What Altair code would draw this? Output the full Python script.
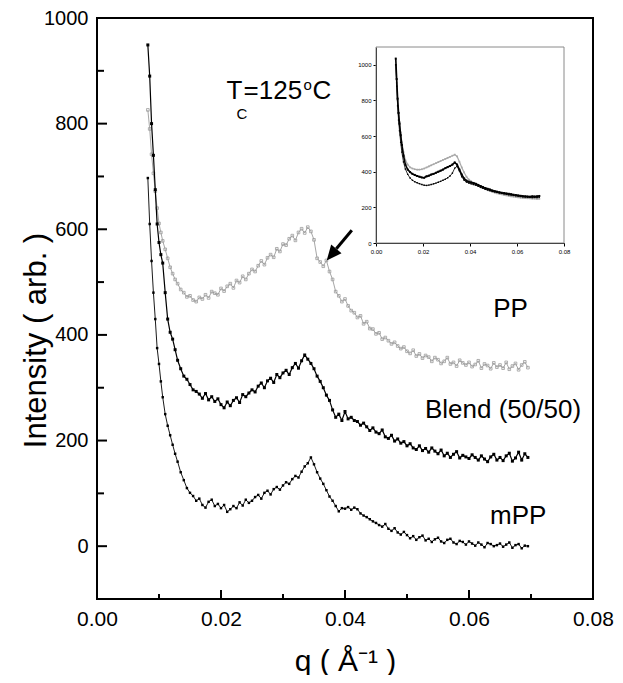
import altair as alt
import pandas as pd

FONT = "Liberation Sans"

# ---------------- main curves (q in 1/Angstrom, intensity arb.) ----------------
q_main = [
    0.0082, 0.0085, 0.0088, 0.0091, 0.0094, 0.0097, 0.0100, 0.0103, 0.0106,
    0.0110, 0.0114, 0.0118, 0.0122, 0.0126, 0.0130, 0.0135, 0.0140, 0.0145,
    0.0150, 0.0155, 0.0160, 0.0165, 0.0170, 0.0175, 0.0180, 0.0185, 0.0190, 0.0195,
    0.0200, 0.0205, 0.0210, 0.0215, 0.0220, 0.0225, 0.0230, 0.0235, 0.0240, 0.0245,
    0.0250, 0.0255, 0.0260, 0.0265, 0.0270, 0.0275, 0.0280, 0.0285, 0.0290, 0.0295,
    0.0300, 0.0305, 0.0310, 0.0315, 0.0320, 0.0325, 0.0330, 0.0335, 0.0340, 0.0345,
    0.0350, 0.0355, 0.0360, 0.0365, 0.0370, 0.0375, 0.0380, 0.0385, 0.0390, 0.0395,
    0.0400, 0.0405, 0.0410, 0.0415, 0.0420, 0.0425, 0.0430, 0.0435, 0.0440, 0.0445,
    0.0450, 0.0455, 0.0460, 0.0465, 0.0470, 0.0475, 0.0480, 0.0485, 0.0490, 0.0495,
    0.0500, 0.0505, 0.0510, 0.0515, 0.0520, 0.0525, 0.0530, 0.0535, 0.0540, 0.0545,
    0.0550, 0.0555, 0.0560, 0.0565, 0.0570, 0.0575, 0.0580, 0.0585, 0.0590, 0.0595,
    0.0600, 0.0605, 0.0610, 0.0615, 0.0620, 0.0625, 0.0630, 0.0635, 0.0640, 0.0645,
    0.0650, 0.0655, 0.0660, 0.0665, 0.0670, 0.0675, 0.0680, 0.0685, 0.0690, 0.0695,
]

pp_main = [
    826, 790, 742, 706, 672, 640, 611, 594, 578, 562, 545, 528, 516, 505, 497, 486, 480, 472,
    474, 466, 463, 471, 468, 476, 470, 482, 479, 476,
    488, 483, 492, 497, 489, 503, 499, 511, 505, 516,
    524, 520, 531, 540, 533, 546, 552, 547, 563, 558,
    572, 570, 582, 588, 579, 594, 601, 593, 604, 596,
    580, 545, 538, 530, 541, 520, 505, 482, 474, 463,
    468, 455, 446, 442, 433, 436, 421, 425, 412, 411,
    402, 404, 392, 395, 389, 383, 386, 379, 374, 377,
    369, 365, 371, 360, 364, 356, 361, 358, 350, 357,
    353, 346, 350, 357, 345, 348, 341, 352, 347, 343,
    348, 340, 344, 351, 337, 345, 342, 336, 347, 339,
    343, 337, 348, 335, 341, 346, 334, 343, 349, 338,
]

blend_main = [
    949, 890, 800, 740, 675, 610, 575, 552, 536, 480, 430, 405, 392, 372, 352, 336, 322, 316,
    306, 296, 293, 288, 280, 289, 277, 283, 274, 279,
    268, 262, 273, 266, 276, 281, 272, 287, 283, 290,
    296, 292, 303, 309, 300, 313, 318, 310, 325, 319,
    328, 333, 325, 338, 346, 337, 351, 362, 354, 346,
    336, 322, 312, 300, 286, 276, 258, 244, 250, 238,
    255, 241, 244, 238, 236, 229, 233, 226, 219, 224,
    216, 213, 220, 207, 204, 210, 199, 203, 195, 198,
    190, 194, 186, 183, 190, 181, 185, 178, 186, 180,
    175, 182, 171, 176, 168, 174, 179, 167, 172, 169,
    166, 173, 168, 163, 171, 165, 160, 169, 174, 163,
    168, 162, 171, 176, 161, 167, 178, 163, 175, 168,
]

mpp_main = [
    697, 610, 540, 480, 430, 375, 345, 312, 282, 250, 228, 210, 192, 175, 160, 140, 125, 110,
    101, 95, 86, 90, 78, 73, 84, 88, 76, 80,
    72, 78, 65, 70, 76, 72, 83, 77, 88, 82,
    86, 93, 97, 90, 101, 105, 98, 108, 112, 107,
    115, 121, 118, 127, 133, 130, 141, 151, 157, 168,
    155, 140, 128, 118, 106, 94, 86, 76, 66, 72,
    71, 74, 69, 73, 70, 62, 58, 55, 51, 47,
    44, 40, 37, 42, 33, 29, 34, 26, 22, 27,
    21, 15, 19, 12, 17, 20, 11, 14, 8, 13,
    16, 9, 6, 12, 14, 7, 4, 10, 8, 3,
    9, 5, 1, 7, 3, -2, 6, 4, 0, 2,
    5, -1, 3, 7, -3, 2, 4, -4, 1, 0,
]

# ---------------- inset curves (unshifted data) ----------------
q_inset = [
    0.0084, 0.0088, 0.0092, 0.0096, 0.0100, 0.0105, 0.0110, 0.0117, 0.0125, 0.0135, 0.0145,
    0.0155, 0.0165, 0.0175, 0.0185, 0.0195, 0.0205, 0.0215, 0.0225, 0.0235, 0.0245,
    0.0255, 0.0265, 0.0275, 0.0285, 0.0295, 0.0305, 0.0315, 0.0325, 0.0335, 0.0345,
    0.0355, 0.0365, 0.0375, 0.0385, 0.0395, 0.0405, 0.0415, 0.0425, 0.0435, 0.0445,
    0.0455, 0.0465, 0.0475, 0.0485, 0.0495, 0.0505, 0.0515, 0.0525, 0.0535, 0.0545,
    0.0555, 0.0565, 0.0575, 0.0585, 0.0595, 0.0605, 0.0615, 0.0625, 0.0635, 0.0645,
    0.0655, 0.0665, 0.0675, 0.0685, 0.0695,
]
blend_inset = [
    1035, 920, 810, 730, 670, 605, 550, 490, 440, 412, 398,
    388, 382, 376, 372, 368, 366, 374, 378, 384, 388,
    394, 400, 406, 412, 420, 426, 432, 440, 452, 440,
    412, 384, 362, 350, 344, 340, 336, 332, 326, 320,
    314, 308, 304, 300, 295, 291, 288, 285, 282, 280,
    278, 276, 274, 271, 269, 267, 265, 263, 262, 261,
    260, 262, 261, 262, 264,
]
pp_inset = [
    1000, 900, 800, 730, 680, 620, 565, 510, 465, 440, 425,
    418, 414, 412, 412, 414, 418, 424, 430, 436, 442,
    448, 454, 460, 466, 472, 478, 484, 490, 496, 486,
    456, 424, 396, 372, 356, 346, 338, 330, 322, 315,
    308, 302, 296, 291, 287, 283, 279, 276, 273, 270,
    267, 265, 262, 260, 258, 256, 254, 253, 252, 251,
    250, 249, 249, 248, 248,
]
mpp_inset = [
    1000, 880, 770, 690, 630, 565, 510, 455, 415, 385, 365,
    352, 344, 338, 333, 328, 324, 323, 325, 328, 332,
    336, 341, 346, 352, 358, 366, 376, 392, 420, 430,
    405, 372, 352, 342, 336, 332, 328, 324, 318, 312,
    307, 302, 298, 294, 290, 287, 284, 281, 279, 276,
    274, 271, 269, 267, 265, 263, 261, 259, 258, 257,
    256, 255, 256, 255, 257,
]

# ---------------- ticks / labels ----------------
x_tick_labels = [0.0, 0.02, 0.04, 0.06, 0.08]
y_tick_labels = [0, 200, 400, 600, 800, 1000]
x_major_ticks = [0.02, 0.04, 0.06]
x_minor_ticks = [0.01, 0.03, 0.05, 0.07]
y_major_ticks = [0, 200, 400, 600, 800, 1000]
y_minor_ticks = [100, 300, 500, 700, 900]
inset_x_labels = [0.0, 0.02, 0.04, 0.06, 0.08]
inset_y_labels = [0, 200, 400, 600, 800, 1000]

curve_names = ["PP", "Blend (50/50)", "mPP"]
curve_name_q = [0.0639, 0.0529, 0.0634]
curve_name_v = [433, 243, 42]

tc_q = [0.0209]
tc_v = [847]

arrow_q = [0.0411]
arrow_v = [598]
arrow_q2 = [0.0386]
arrow_v2 = [563]
arrow_tip_q = [0.03705]
arrow_tip_v = [541]

# ---------------- scales & axes ----------------
xs = alt.Scale(domain=[0, 0.08], nice=False, zero=False)
ys = alt.Scale(domain=[-100, 1000], nice=False, zero=False)

x_axis = alt.Axis(
    values=x_tick_labels, format=".2f", labelFontSize=21, labelFont=FONT,
    labelColor="black", labelPadding=9, labelFlush=False, ticks=False,
    domain=False, grid=False, title="q ( Å⁻¹ )", titleFontSize=30,
    titleFont=FONT, titleFontWeight="normal", titleColor="black",
    titleBaseline="alphabetic", titleY=71,
)
y_axis = alt.Axis(
    values=y_tick_labels, format="d", labelFontSize=20, labelFont=FONT,
    labelColor="black", labelPadding=9, ticks=False, domain=False, grid=False,
    title="Intensity ( arb. )", titleFontSize=31, titleFont=FONT,
    titleFontWeight="normal", titleColor="black", titleAngle=270,
    titleX=-61, titleY=322, titleAlign="center", titleBaseline="middle",
)

X = alt.X("q:Q", scale=xs, axis=x_axis)
Y = alt.Y("v:Q", scale=ys, axis=y_axis)


def curve(q, v, color, lw, psize, filled):
    df = pd.DataFrame({"q": q, "v": v})
    base = alt.Chart(df).encode(x=X, y=Y)
    line = base.mark_line(color=color, strokeWidth=lw)
    pts = base.mark_point(color=color, size=psize, filled=filled, opacity=1,
                          strokeWidth=0.8, shape="square")
    return line + pts


pp_layer = curve(q_main, pp_main, "#9c9c9c", 0.9, 7, False)
blend_layer = curve(q_main, blend_main, "black", 1.2, 9, True)
mpp_layer = curve(q_main, mpp_main, "black", 0.9, 6, True)

# inward tick marks
ytmaj = alt.Chart(pd.DataFrame({"v": y_major_ticks})).mark_rule(color="black", strokeWidth=2).encode(
    y=Y, x=alt.value(0), x2=alt.value(10))
ytmin = alt.Chart(pd.DataFrame({"v": y_minor_ticks})).mark_rule(color="black", strokeWidth=2).encode(
    y=Y, x=alt.value(0), x2=alt.value(7))
xtmaj = alt.Chart(pd.DataFrame({"q": x_major_ticks})).mark_rule(color="black", strokeWidth=2).encode(
    x=X, y=alt.value(581), y2=alt.value(572))
xtmin = alt.Chart(pd.DataFrame({"q": x_minor_ticks})).mark_rule(color="black", strokeWidth=2).encode(
    x=X, y=alt.value(581), y2=alt.value(576))

# curve names
names = alt.Chart(pd.DataFrame({"q": curve_name_q, "v": curve_name_v, "t": curve_names})).mark_text(
    align="left", baseline="alphabetic", fontSize=26, font=FONT, color="black"
).encode(x=X, y=Y, text="t:N")

# T_C = 125 oC annotation
tc_df = pd.DataFrame({"q": tc_q, "v": tc_v})
tc_base = alt.Chart(tc_df).encode(x=X, y=Y)
tc_parts = [
    tc_base.mark_text(text="T", align="left", baseline="alphabetic", fontSize=26, font=FONT, color="black"),
    tc_base.mark_text(text="C", align="left", baseline="alphabetic", fontSize=15, font=FONT, color="black", dx=10, dy=20),
    tc_base.mark_text(text="=125", align="left", baseline="alphabetic", fontSize=26, font=FONT, color="black", dx=17),
    tc_base.mark_text(text="o", align="left", baseline="alphabetic", fontSize=15, font=FONT, color="black", dx=77, dy=-9),
    tc_base.mark_text(text="C", align="left", baseline="alphabetic", fontSize=26, font=FONT, color="black", dx=86),
]

# arrow
arrow_line = alt.Chart(pd.DataFrame({"q": arrow_q, "v": arrow_v, "q2": arrow_q2, "v2": arrow_v2})).mark_rule(
    color="black", strokeWidth=3).encode(x=X, y=Y, x2="q2:Q", y2="v2:Q")
arrow_head = alt.Chart(pd.DataFrame({"q": arrow_tip_q, "v": arrow_tip_v})).mark_point(
    shape="M0,0L-0.45,1L0.45,1Z", size=900, angle=220, filled=True, color="black", opacity=1
).encode(x=X, y=Y)

main = alt.layer(pp_layer, blend_layer, mpp_layer, ytmaj, ytmin, xtmaj, xtmin,
                 names, *tc_parts, arrow_line, arrow_head)

# ---------------- inset ----------------
ixs = alt.Scale(domain=[0, 0.08], range=[279, 467], nice=False, zero=False)
iys = alt.Scale(domain=[0, 1100], range=[225, 29], nice=False, zero=False)
ix_axis = alt.Axis(orient="bottom", offset=-356, values=inset_x_labels, format=".2f",
                   labelFontSize=6, labelFont=FONT, labelColor="black", labelFlush=False,
                   labelPadding=2, tickSize=3, tickColor="black", domainColor="black",
                   domainWidth=1, grid=False, title="")
iy_axis = alt.Axis(orient="left", offset=-279, values=inset_y_labels, format="d",
                   labelFontSize=6, labelFont=FONT, labelColor="black", labelPadding=2,
                   tickSize=3, tickColor="black", domainColor="black", domainWidth=1,
                   grid=False, title="")
IX = alt.X("q:Q", scale=ixs, axis=ix_axis)
IY = alt.Y("v:Q", scale=iys, axis=iy_axis)

inset_frame = alt.Chart(pd.DataFrame({"q": [0.0], "v": [0.0], "q2": [0.08], "v2": [1100.0]})).mark_rect(
    fillOpacity=0, stroke="#8a8a8a", strokeWidth=1).encode(x=IX, y=IY, x2="q2:Q", y2="v2:Q")


def icurve(v, color, lw, psize):
    df = pd.DataFrame({"q": q_inset, "v": v})
    base = alt.Chart(df).encode(x=IX, y=IY)
    return base.mark_line(color=color, strokeWidth=lw) + base.mark_point(
        color=color, size=psize, filled=True, opacity=1, shape="square")


inset = alt.layer(
    inset_frame,
    icurve(pp_inset, "#a8a8a8", 1.2, 3),
    icurve(mpp_inset, "black", 0.8, 2),
    icurve(blend_inset, "black", 1.6, 4),
)

chart = alt.layer(main, inset).resolve_scale(x="independent", y="independent").properties(
    width=496, height=581,
    autosize=alt.AutoSizeParams(type="none"),
    padding={"left": 89, "top": 10, "right": 22, "bottom": 76},
    background="white",
).configure_view(stroke="black", strokeWidth=2).configure_text(font=FONT)

chart.save("out.html", embed_options={"renderer": "svg", "actions": False})
